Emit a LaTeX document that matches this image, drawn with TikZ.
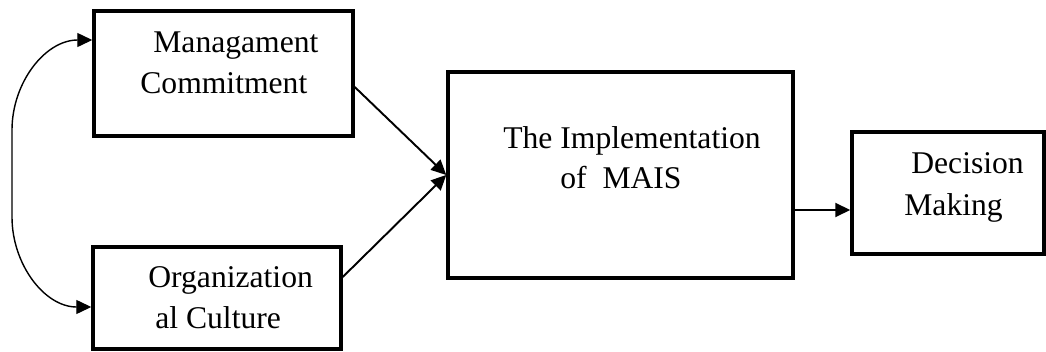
\documentclass[tikz,border=0pt]{standalone}
\usepackage{fontspec}
\setmainfont{Liberation Serif}
\usepackage{tikz}
\usetikzlibrary{positioning,arrows.meta}

\begin{document}
\begin{tikzpicture}[
        x=0.02cm, y=-0.02cm,
        box/.style = {
            draw,
            line width=2pt,
            inner sep=0pt
        },
        lbl/.style = {
            anchor=base west,
            inner sep=0pt,
            font=\fontsize{18}{22}\selectfont
        },
        arr/.style = {-{Triangle[length=0.3cm,width=0.28cm]}, line width=1.1pt},
        link/.style = {{Triangle[length=0.3cm,width=0.28cm]}-{Triangle[length=0.3cm,width=0.28cm]}, line width=0.8pt}]

        \useasboundingbox (0,0) rectangle (1046,352);

        % boxes
        \node[box, minimum width=5.18cm, minimum height=2.5cm] (mc) at (223.5,73.5) {};
        \node[box, minimum width=4.96cm, minimum height=2.04cm] (oc) at (217,298) {};
        \node[box, minimum width=6.9cm, minimum height=4.12cm] (impl) at (620.5,175) {};
        \node[box, minimum width=3.84cm, minimum height=2.44cm] (dm) at (948,193) {};

        % texts
        \node[lbl] (mc1) at (153,52) {Managament};
        \node[lbl] (mc2) at (140,93) {Commitment};
        \node[lbl] (oc1) at (148,287) {Organization};
        \node[lbl] (oc2) at (155,328) {al Culture};
        \node[lbl] (impl1) at (503,148) {The Implementation};
        \node[lbl] (impl2) at (560,188) {of~~MAIS};
        \node[lbl] (dm1) at (911,173) {Decision};
        \node[lbl] (dm2) at (904,215) {Making};

        % left side of the loop
        \coordinate (railtop) at (12,130);
        \coordinate (railbot) at (12,217);

        \draw[arr] ([yshift=-0.27cm]mc.east) -- (impl.west);
        \draw[arr] ([yshift=0.42cm]oc.east) -- (impl.west);
        \draw[arr] ([yshift=-0.7cm]impl.east) -- ([yshift=-0.7cm]impl.east -| dm.west);
        \draw[link] ([yshift=0.67cm]mc.west) to[out=180, in=90] (railtop) -- (railbot) to[out=-90, in=180] ([yshift=-0.18cm]oc.west);
    \end{tikzpicture}
\end{document}
